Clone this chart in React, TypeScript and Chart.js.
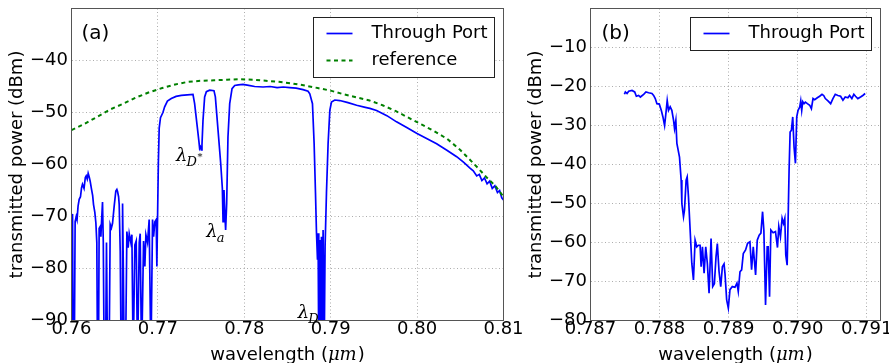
import React, { useEffect, useRef } from 'react';
import { Chart, registerables } from 'chart.js';

Chart.register(...registerables);
Chart.defaults.font.family = '"DejaVu Sans", sans-serif';

// ---------------- Panel (a) data ----------------
const A_THROUGH_WL = [
  0.76, 0.76004, 0.76012, 0.7602, 0.76032, 0.76042, 0.76055, 0.76064, 0.76076, 0.76089,
  0.76104, 0.76116, 0.76127, 0.76145, 0.7616, 0.7617, 0.76182, 0.76193, 0.76205, 0.76216,
  0.76232, 0.76245, 0.76255, 0.7627, 0.76282, 0.76293, 0.76301, 0.76312, 0.7632, 0.7633,
  0.7634, 0.7635, 0.76359, 0.76368, 0.76378, 0.76394, 0.76405, 0.76417, 0.76435, 0.76448,
  0.76462, 0.76475, 0.76494, 0.76513, 0.76525, 0.76533, 0.76545, 0.76552, 0.76564, 0.76575,
  0.76585, 0.76591, 0.766, 0.7661, 0.76625, 0.76641, 0.76656, 0.76668, 0.76687, 0.76699,
  0.76714, 0.76733, 0.76749, 0.76764, 0.76784, 0.76795, 0.76811, 0.76834, 0.76849, 0.76861,
  0.7688, 0.76899, 0.76919, 0.76938, 0.7695, 0.76965, 0.7698, 0.76988, 0.76996, 0.77005,
  0.77015, 0.7703, 0.77058, 0.77078, 0.7711, 0.77155, 0.7721, 0.77271, 0.7734, 0.77406,
  0.77425, 0.77456, 0.77475, 0.77483, 0.77492, 0.77502, 0.7751, 0.77522, 0.77541, 0.77561,
  0.77599, 0.77649, 0.77665, 0.77696, 0.77727, 0.77746, 0.77754, 0.77765, 0.77773, 0.77784,
  0.77796, 0.77811, 0.77831, 0.77858, 0.77889, 0.7793, 0.77985, 0.7805, 0.7812, 0.78217,
  0.783, 0.7838, 0.7845, 0.78526, 0.786, 0.7868, 0.78738, 0.78758, 0.78789, 0.78808,
  0.78824, 0.78835, 0.78847, 0.78854, 0.78862, 0.78874, 0.78882, 0.78893, 0.78901, 0.78912,
  0.78924, 0.78935, 0.78951, 0.7897, 0.7899, 0.79009, 0.79047, 0.79105, 0.792, 0.793,
  0.794, 0.79453, 0.79531, 0.7965, 0.79762, 0.7988, 0.79994, 0.8011, 0.80226, 0.8034,
  0.80458, 0.8054, 0.80612, 0.8065, 0.8069, 0.8072, 0.8075, 0.8078, 0.8081, 0.8084,
  0.8087, 0.809, 0.8093, 0.80955, 0.8098, 0.81,
];
const A_THROUGH_DBM = [
  -98, -72.0, -69.5, -98, -98, -71.0, -70.0, -70.6, -68.0, -66.7,
  -66.2, -64.5, -63.8, -64.6, -62.5, -62.2, -62.8, -61.7, -62.4, -63.2,
  -64.8, -66.0, -67.7, -69.2, -71.2, -75.0, -98, -98, -72.3, -72.0,
  -73.9, -70.2, -67.2, -75.0, -98, -98, -75.0, -98, -98, -71.5,
  -72.2, -71.3, -68.0, -65.1, -64.8, -65.2, -66.2, -67.7, -76.7, -98,
  -98, -67.5, -80.0, -98, -98, -72.9, -76.0, -73.3, -75.0, -73.5,
  -98, -75.5, -74.7, -98, -75.0, -73.3, -98, -74.7, -79.6, -73.5,
  -75.0, -70.6, -98, -70.6, -73.9, -71.0, -70.6, -79.6, -70.3, -60.0,
  -53.0, -51.0, -50.0, -48.9, -47.8, -47.3, -46.9, -46.7, -46.6, -46.5,
  -48.3, -52.8, -55.6, -56.9, -56.6, -57.2, -56.3, -51.5, -47.0, -46.0,
  -45.7, -45.8, -47.0, -53.4, -59.8, -64.6, -71.0, -64.9, -68.8, -72.6,
  -67.5, -54.7, -48.3, -45.4, -44.8, -44.7, -44.6, -44.8, -45.0, -45.1,
  -45.0, -45.2, -45.1, -45.2, -45.3, -45.6, -45.9, -46.4, -48.3, -55.9,
  -65.5, -72.9, -78.3, -73.2, -98, -74.5, -98, -73.9, -98, -72.6,
  -98, -75.8, -65.5, -55.9, -49.6, -48.0, -47.6, -47.7, -48.1, -48.6,
  -49.0, -49.2, -49.6, -50.6, -51.8, -52.9, -54.0, -55.0, -56.0, -57.2,
  -58.5, -59.6, -60.7, -61.2, -62.2, -61.9, -63.1, -62.6, -63.7, -63.2,
  -64.6, -64.1, -65.4, -65.0, -66.4, -66.8,
];
const A_REF_WL = [
  0.76, 0.7615, 0.763, 0.7645, 0.766, 0.7675, 0.769, 0.7705, 0.772, 0.7735,
  0.775, 0.7765, 0.778, 0.7795, 0.781, 0.7825, 0.784, 0.7855, 0.787, 0.7885,
  0.79, 0.7915, 0.793, 0.7945, 0.796, 0.7975, 0.799, 0.8005, 0.802, 0.8035,
  0.805, 0.806, 0.807, 0.808, 0.809, 0.81,
];
const A_REF_DBM = [
  -53.4, -52.2, -50.8, -49.4, -48.3, -47.1, -46.1, -45.3, -44.6, -44.1,
  -43.9, -43.8, -43.7, -43.6, -43.7, -43.9, -44.1, -44.4, -44.8, -45.3,
  -45.8, -46.5, -47.1, -47.7, -48.6, -49.7, -51.0, -52.3, -53.6, -55.1,
  -57.2, -58.9, -60.6, -62.4, -64.0, -66.2,
];
const A_X_TICKS = [0.76, 0.77, 0.78, 0.79, 0.8, 0.81];
const A_Y_TICKS = [-90, -80, -70, -60, -50, -40];
const A_LABELS = ['Through Port', 'reference'];
const A_MARKERS = [
  { sub: 'D', sup: '*', wl: 0.7721, dbm: -59.3 },
  { sub: 'a', sup: '', wl: 0.7756, dbm: -73.9 },
  { sub: 'D', sup: '', wl: 0.7862, dbm: -89.5 },
];

// ---------------- Panel (b) data ----------------
const B_THROUGH_WL = [
  0.787491, 0.787505, 0.787529, 0.787553, 0.787601, 0.78764, 0.787664, 0.787697, 0.787722, 0.78777,
  0.787803, 0.787842, 0.78789, 0.787914, 0.787938, 0.787962, 0.787996, 0.788025, 0.788049, 0.788073,
  0.788092, 0.788111, 0.78813, 0.788154, 0.788178, 0.788203, 0.788217, 0.788236, 0.788251, 0.788289,
  0.788313, 0.788323, 0.788347, 0.788361, 0.788385, 0.7884, 0.788419, 0.788443, 0.788467, 0.788491,
  0.788515, 0.788539, 0.788563, 0.788587, 0.788602, 0.788621, 0.788645, 0.788669, 0.788693, 0.788717,
  0.788746, 0.78877, 0.788794, 0.788818, 0.788837, 0.788861, 0.788886, 0.78891, 0.788934, 0.788948,
  0.788972, 0.788996, 0.78902, 0.789054, 0.789092, 0.789121, 0.78914, 0.789165, 0.789189, 0.789213,
  0.789246, 0.789275, 0.789309, 0.789333, 0.789357, 0.789391, 0.789415, 0.789443, 0.789468, 0.789492,
  0.789511, 0.789535, 0.789559, 0.789573, 0.789593, 0.789612, 0.789645, 0.789679, 0.789708, 0.789727,
  0.789751, 0.789775, 0.789795, 0.789814, 0.789828, 0.789848, 0.789862, 0.789876, 0.789891, 0.78991,
  0.789929, 0.789948, 0.789968, 0.789987, 0.790006, 0.79003, 0.790045, 0.790059, 0.790074, 0.790093,
  0.790112, 0.790141, 0.790175, 0.790199, 0.790223, 0.790247, 0.790285, 0.790319, 0.790353, 0.790377,
  0.790401, 0.790439, 0.790478, 0.790511, 0.790545, 0.790583, 0.790622, 0.790656, 0.790689, 0.790728,
  0.790752, 0.790785, 0.790814, 0.790838, 0.790872, 0.790911, 0.790944, 0.790978,
];
const B_THROUGH_DBM = [
  -22.0, -21.4, -21.8, -21.2, -21.0, -21.4, -22.5, -22.3, -22.7, -22.0,
  -21.4, -21.6, -21.8, -22.3, -23.1, -24.4, -24.5, -26.1, -27.8, -30.0,
  -26.9, -23.6, -26.1, -25.2, -26.1, -28.7, -30.8, -28.7, -34.6, -38.1,
  -44.0, -50.0, -53.4, -51.7, -44.0, -43.2, -48.3, -56.8, -65.3, -69.6,
  -59.4, -61.1, -60.7, -60.7, -66.2, -61.1, -67.9, -61.1, -65.5, -73.0,
  -59.0, -71.3, -70.6, -63.6, -60.3, -67.3, -71.3, -66.2, -65.5, -68.0,
  -74.7, -76.8, -72.1, -71.3, -71.5, -70.4, -72.5, -67.5, -67.0, -62.8,
  -61.9, -60.2, -59.8, -67.0, -61.1, -68.3, -59.4, -58.1, -57.6, -52.1,
  -57.0, -76.0, -61.1, -61.1, -73.9, -56.8, -57.5, -57.2, -61.3, -55.9,
  -58.5, -53.8, -55.1, -53.8, -63.2, -65.8, -54.2, -41.5, -31.7, -31.2,
  -27.8, -35.5, -39.7, -27.8, -26.1, -25.3, -23.7, -26.1, -23.9, -24.4,
  -24.0, -24.4, -24.8, -25.7, -23.1, -23.4, -22.9, -22.5, -22.0, -22.3,
  -23.1, -23.7, -24.4, -23.1, -22.0, -22.3, -22.5, -23.5, -22.7, -22.9,
  -22.3, -23.1, -22.0, -22.5, -23.1, -22.7, -22.3, -21.8,
];
const B_X_TICKS = [0.787, 0.788, 0.789, 0.79, 0.791];
const B_Y_TICKS = [-80, -70, -60, -50, -40, -30, -20, -10];
const B_LABELS = ['Through Port'];

const X_TITLE_MAIN = 'wavelength (';
const X_TITLE_UNIT = 'μm';
const X_TITLE_END = ')';
const Y_TITLE = 'transmitted power (dBm)';

// ---------------- styling ----------------
const SANS = '"DejaVu Sans", sans-serif';
const SERIF = '"DejaVu Serif", serif';
const BLUE = '#0000ff';
const GREEN = '#008000';
const FRAME = '#555555';
const GRID = 'rgba(0,0,0,0.32)';

const toPts = (xs: number[], ys: number[]) => xs.map((x, i) => ({ x, y: ys[i] }));
const minus = (s: string) => s.replace('-', '\u2212');

type PanelCfg = {
  width: number;
  yAxisWidth: number;
  padRight: number;
  top: number;
  bottom: number;
  xMin: number;
  xMax: number;
  yMin: number;
  yMax: number;
  xTicks: number[];
  yTicks: number[];
  xDigits: number;
  letter: string;
  letterDx: number;
  datasets: any[];
  markers: { sub: string; sup: string; wl: number; dbm: number }[];
};

function decorPlugin(p: PanelCfg) {
  return {
    id: 'decor' + p.letter,
    afterDraw(chart: any) {
      const { ctx, chartArea: ca, scales } = chart;
      ctx.save();
      // frame
      const l = Math.floor(ca.left) + 0.5;
      const r = Math.floor(ca.right) + 0.5;
      const t = Math.floor(ca.top) + 0.5;
      const b = Math.floor(ca.bottom) + 0.5;
      ctx.strokeStyle = FRAME;
      ctx.lineWidth = 1;
      ctx.setLineDash([]);
      ctx.strokeRect(l, t, r - l, b - t);

      ctx.fillStyle = '#000';
      // panel letter
      ctx.font = `20px ${SANS}`;
      ctx.textAlign = 'left';
      ctx.textBaseline = 'middle';
      ctx.fillText(p.letter, ca.left + p.letterDx, ca.top + 25.5);

      // markers (lambda labels)
      for (const m of p.markers) {
        const px = scales.x.getPixelForValue(m.wl);
        const py = scales.y.getPixelForValue(m.dbm);
        ctx.textBaseline = 'alphabetic';
        ctx.font = `italic 18px ${SERIF}`;
        ctx.fillText('λ', px, py);
        const lw = ctx.measureText('λ').width;
        ctx.font = `italic 13px ${SERIF}`;
        ctx.fillText(m.sub, px + lw - 1, py + 5);
        if (m.sup) {
          const sw = ctx.measureText(m.sub).width;
          ctx.font = `italic 10px ${SERIF}`;
          ctx.fillText(m.sup, px + lw - 1 + sw + 0.5, py - 1);
        }
      }

      // x title
      ctx.textBaseline = 'alphabetic';
      ctx.font = `18px ${SANS}`;
      const w1 = ctx.measureText(X_TITLE_MAIN).width;
      const w3 = ctx.measureText(X_TITLE_END).width;
      ctx.font = `italic 18px ${SERIF}`;
      const w2 = ctx.measureText(X_TITLE_UNIT).width;
      const total = w1 + w2 + w3 + 1;
      const x0 = (ca.left + ca.right) / 2 - total / 2;
      const yb = ca.bottom + 39.5;
      ctx.font = `18px ${SANS}`;
      ctx.fillText(X_TITLE_MAIN, x0, yb);
      ctx.font = `italic 18px ${SERIF}`;
      ctx.fillText(X_TITLE_UNIT, x0 + w1, yb);
      ctx.font = `18px ${SANS}`;
      ctx.fillText(X_TITLE_END, x0 + w1 + w2 + 1, yb);

      // y title
      ctx.save();
      ctx.translate(ca.left - 54.5, (ca.top + ca.bottom) / 2);
      ctx.rotate(-Math.PI / 2);
      ctx.textAlign = 'center';
      ctx.textBaseline = 'middle';
      ctx.font = `18px ${SANS}`;
      ctx.fillText(Y_TITLE, 0, 0);
      ctx.restore();

      // legend
      const ds = chart.data.datasets;
      ctx.font = `18px ${SANS}`;
      let maxW = 0;
      for (const d of ds) maxW = Math.max(maxW, ctx.measureText(d.label).width);
      const boxW = Math.round(58 + maxW + 7);
      const boxH = Math.round(16 + (ds.length - 1) * 27 + 16.5);
      const bx = Math.floor(ca.right - 9 - boxW) + 0.5;
      const by = Math.floor(ca.top + 8.5) + 0.5;
      ctx.fillStyle = '#fff';
      ctx.fillRect(bx, by, boxW, boxH);
      ctx.strokeStyle = '#222';
      ctx.lineWidth = 1;
      ctx.strokeRect(bx, by, boxW, boxH);
      ds.forEach((d: any, i: number) => {
        const cy = by + 16 + i * 27;
        ctx.save();
        ctx.strokeStyle = d.borderColor;
        ctx.lineWidth = d.borderWidth;
        ctx.setLineDash(d.borderDash || []);
        ctx.beginPath();
        ctx.moveTo(bx + 13, cy);
        ctx.lineTo(bx + 39, cy);
        ctx.stroke();
        ctx.restore();
        ctx.fillStyle = '#000';
        ctx.textAlign = 'left';
        ctx.textBaseline = 'middle';
        ctx.fillText(d.label, bx + 58, cy);
      });
      ctx.restore();
    },
  };
}

function makeConfig(p: PanelCfg): any {
  const H = 363;
  const fmtX = (v: number) => v.toFixed(p.xDigits);
  const fmtY = (v: number) => minus(String(v));
  return {
    type: 'line',
    data: { datasets: p.datasets },
    options: {
      animation: false,
      responsive: false,
      maintainAspectRatio: false,
      devicePixelRatio: 1,
      events: [],
      layout: { padding: { top: p.top, right: p.padRight, left: 0, bottom: 0 } },
      plugins: { legend: { display: false }, tooltip: { enabled: false }, title: { display: false } },
      elements: { point: { radius: 0 }, line: { tension: 0 } },
      scales: {
        x: {
          type: 'linear',
          min: p.xMin,
          max: p.xMax,
          afterBuildTicks: (s: any) => {
            s.ticks = p.xTicks.map((v) => ({ value: v }));
          },
          afterFit: (s: any) => {
            s.height = H - p.bottom;
            s.paddingLeft = 0;
            s.paddingRight = 0;
          },
          ticks: {
            autoSkip: false,
            maxRotation: 0,
            minRotation: 0,
            padding: 0,
            color: '#000',
            font: { family: SANS, size: 18, lineHeight: 1 },
            callback: (v: number) => fmtX(v),
          },
          grid: { color: GRID, lineWidth: 1, drawTicks: false },
          border: { display: true, color: FRAME, width: 1, dash: [1, 2.5] },
        },
        y: {
          type: 'linear',
          min: p.yMin,
          max: p.yMax,
          afterBuildTicks: (s: any) => {
            s.ticks = p.yTicks.map((v) => ({ value: v }));
          },
          afterFit: (s: any) => {
            s.width = p.yAxisWidth;
            s.paddingTop = 0;
            s.paddingBottom = 0;
          },
          ticks: {
            autoSkip: false,
            padding: 3.5,
            color: '#000',
            font: { family: SANS, size: 18, lineHeight: 1 },
            callback: (v: number) => fmtY(v),
          },
          grid: { color: GRID, lineWidth: 1, drawTicks: false },
          border: { display: true, color: FRAME, width: 1, dash: [1, 2.5] },
        },
      },
    },
    plugins: [decorPlugin(p)],
  };
}

const throughStyle = {
  borderColor: BLUE,
  backgroundColor: BLUE,
  borderWidth: 1.7,
  pointRadius: 0,
  fill: false,
  clip: 0,
  order: 1,
};

const panelA: PanelCfg = {
  width: 540,
  yAxisWidth: 71.5,
  padRight: 36.5,
  top: 8.5,
  bottom: 320.5,
  xMin: 0.76,
  xMax: 0.81,
  yMin: -90,
  yMax: -30,
  xTicks: A_X_TICKS,
  yTicks: A_Y_TICKS,
  xDigits: 2,
  letter: '(a)',
  letterDx: 10,
  markers: A_MARKERS,
  datasets: [
    { ...throughStyle, label: A_LABELS[0], data: toPts(A_THROUGH_WL, A_THROUGH_DBM) },
    {
      label: A_LABELS[1],
      data: toPts(A_REF_WL, A_REF_DBM),
      borderColor: GREEN,
      backgroundColor: GREEN,
      borderWidth: 2,
      borderDash: [4, 3.5],
      pointRadius: 0,
      fill: false,
      clip: 0,
      order: 0,
    },
  ],
};

const panelB: PanelCfg = {
  width: 379,
  yAxisWidth: 80.5,
  padRight: 8.5,
  top: 8.5,
  bottom: 320.5,
  xMin: 0.787,
  xMax: 0.7912,
  yMin: -80,
  yMax: 0,
  xTicks: B_X_TICKS,
  yTicks: B_Y_TICKS,
  xDigits: 3,
  letter: '(b)',
  letterDx: 11,
  markers: [],
  datasets: [{ ...throughStyle, label: B_LABELS[0], data: toPts(B_THROUGH_WL, B_THROUGH_DBM) }],
};

export default function App() {
  const refA = useRef<HTMLCanvasElement>(null);
  const refB = useRef<HTMLCanvasElement>(null);
  useEffect(() => {
    const a = new Chart(refA.current as HTMLCanvasElement, makeConfig(panelA));
    const b = new Chart(refB.current as HTMLCanvasElement, makeConfig(panelB));
    return () => {
      a.destroy();
      b.destroy();
    };
  }, []);
  return (
    <div
      style={{
        position: 'fixed',
        left: 0,
        top: 0,
        width: 889,
        height: 363,
        background: '#fff',
        overflow: 'hidden',
      }}
    >
      <canvas
        ref={refA}
        width={540}
        height={363}
        style={{ position: 'absolute', left: 0, top: 0, width: 540, height: 363 }}
      />
      <canvas
        ref={refB}
        width={379}
        height={363}
        style={{ position: 'absolute', left: 510, top: 0, width: 379, height: 363 }}
      />
    </div>
  );
}
